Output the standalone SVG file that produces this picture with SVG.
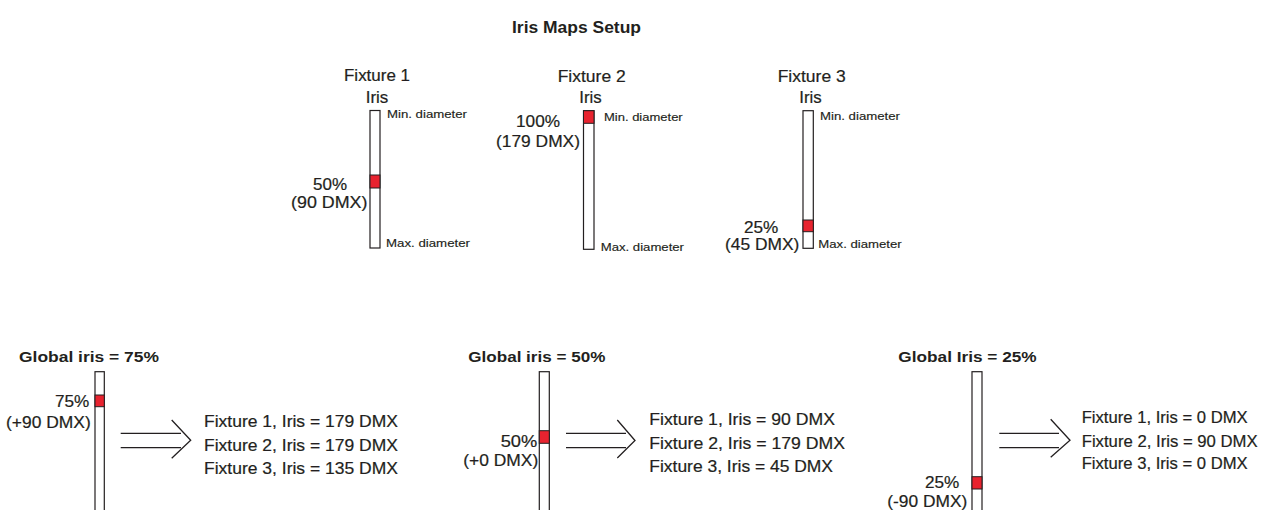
<svg xmlns="http://www.w3.org/2000/svg" width="1279" height="510" viewBox="0 0 1279 510">
<style>
text{font-family:"Liberation Sans",Arial,sans-serif;fill:#231f20}
.t{font-size:15.8px;stroke:#231f20;stroke-width:0.2}
.s{font-size:11.5px;stroke:#231f20;stroke-width:0.15}
.b{font-size:15px;font-weight:bold}
.bar{fill:#fff;stroke:#231f20;stroke-width:1.2}
.red{fill:#e8232f;stroke:#231f20;stroke-width:1}
.ar{fill:none;stroke:#231f20;stroke-width:1.3}
</style>
<rect width="1279" height="510" fill="#fff"/>
<text id="title" class="b" style="font-size:16px" x="512" y="33" textLength="129" lengthAdjust="spacingAndGlyphs">Iris Maps Setup</text>
<g id="fixture1">
<text class="t" x="344" y="81" textLength="66" lengthAdjust="spacingAndGlyphs">Fixture 1</text>
<text class="t" x="365.7" y="103.3" textLength="22.6" lengthAdjust="spacingAndGlyphs">Iris</text>
<rect class="bar" x="370" y="110.5" width="10" height="137.5"/>
<rect class="red" x="370" y="175" width="10" height="13"/>
<text class="s" x="387" y="117.7" textLength="80" lengthAdjust="spacingAndGlyphs">Min. diameter</text>
<text class="s" x="386" y="247.3" textLength="84" lengthAdjust="spacingAndGlyphs">Max. diameter</text>
<text class="t" x="313" y="190" textLength="34" lengthAdjust="spacingAndGlyphs">50%</text>
<text class="t" x="291" y="208.3" textLength="76.5" lengthAdjust="spacingAndGlyphs">(90 DMX)</text>
</g>
<g id="fixture2">
<text class="t" x="557.7" y="81.5" textLength="68" lengthAdjust="spacingAndGlyphs">Fixture 2</text>
<text class="t" x="579.3" y="103.3" textLength="22.4" lengthAdjust="spacingAndGlyphs">Iris</text>
<rect class="bar" x="583.5" y="110.7" width="10.5" height="138.6"/>
<rect class="red" x="583.5" y="110.7" width="10.5" height="12.6"/>
<text class="s" x="604" y="120.7" textLength="78.7" lengthAdjust="spacingAndGlyphs">Min. diameter</text>
<text class="s" x="600.7" y="250.7" textLength="83.3" lengthAdjust="spacingAndGlyphs">Max. diameter</text>
<text class="t" x="516" y="126.7" textLength="44" lengthAdjust="spacingAndGlyphs">100%</text>
<text class="t" x="496" y="146.7" textLength="84" lengthAdjust="spacingAndGlyphs">(179 DMX)</text>
</g>
<g id="fixture3">
<text class="t" x="777.7" y="81.5" textLength="68" lengthAdjust="spacingAndGlyphs">Fixture 3</text>
<text class="t" x="799.3" y="103.3" textLength="22.4" lengthAdjust="spacingAndGlyphs">Iris</text>
<rect class="bar" x="803" y="110.7" width="10.3" height="137.6"/>
<rect class="red" x="803" y="220" width="10.3" height="11.7"/>
<text class="s" x="820" y="120" textLength="80" lengthAdjust="spacingAndGlyphs">Min. diameter</text>
<text class="s" x="818.3" y="248.3" textLength="83.4" lengthAdjust="spacingAndGlyphs">Max. diameter</text>
<text class="t" x="744" y="233.3" textLength="34.3" lengthAdjust="spacingAndGlyphs">25%</text>
<text class="t" x="725" y="250" textLength="74.3" lengthAdjust="spacingAndGlyphs">(45 DMX)</text>
</g>
<g id="global75">
<text class="b" x="19" y="361.7" textLength="140" lengthAdjust="spacingAndGlyphs">Global iris = 75%</text>
<rect class="bar" x="95" y="371.7" width="9.3" height="145"/>
<rect class="red" x="95" y="395" width="9.3" height="11.7"/>
<text class="t" x="55" y="406.7" textLength="34.3" lengthAdjust="spacingAndGlyphs">75%</text>
<text class="t" x="6" y="428.3" textLength="84.7" lengthAdjust="spacingAndGlyphs">(+90 DMX)</text>
<text class="t" x="204" y="426.7" textLength="194" lengthAdjust="spacingAndGlyphs">Fixture 1, Iris = 179 DMX</text>
<text class="t" x="204" y="450.7" textLength="194" lengthAdjust="spacingAndGlyphs">Fixture 2, Iris = 179 DMX</text>
<text class="t" x="204" y="474" textLength="194" lengthAdjust="spacingAndGlyphs">Fixture 3, Iris = 135 DMX</text>
</g>
<g id="global50">
<text class="b" x="468.3" y="361.7" textLength="137" lengthAdjust="spacingAndGlyphs">Global iris = 50%</text>
<rect class="bar" x="539.3" y="371.7" width="10" height="145"/>
<rect class="red" x="539.3" y="430.7" width="10" height="12.6"/>
<text class="t" x="500.7" y="446.7" textLength="36.6" lengthAdjust="spacingAndGlyphs">50%</text>
<text class="t" x="463.3" y="466" textLength="75" lengthAdjust="spacingAndGlyphs">(+0 DMX)</text>
<text class="t" x="649.3" y="425" textLength="185.7" lengthAdjust="spacingAndGlyphs">Fixture 1, Iris = 90 DMX</text>
<text class="t" x="649.3" y="448.5" textLength="195.7" lengthAdjust="spacingAndGlyphs">Fixture 2, Iris = 179 DMX</text>
<text class="t" x="649.3" y="471.7" textLength="183.7" lengthAdjust="spacingAndGlyphs">Fixture 3, Iris = 45 DMX</text>
</g>
<g id="global25">
<text class="b" x="898.3" y="361.7" textLength="138.4" lengthAdjust="spacingAndGlyphs">Global Iris = 25%</text>
<rect class="bar" x="972" y="371.7" width="10" height="145"/>
<rect class="red" x="972" y="476.7" width="10" height="12.3"/>
<text class="t" x="925" y="488.3" textLength="34.3" lengthAdjust="spacingAndGlyphs">25%</text>
<text class="t" x="887.3" y="507.3" textLength="80" lengthAdjust="spacingAndGlyphs">(-90 DMX)</text>
<text class="t" x="1081.7" y="423.3" textLength="166" lengthAdjust="spacingAndGlyphs">Fixture 1, Iris = 0 DMX</text>
<text class="t" x="1081.7" y="446.7" textLength="176" lengthAdjust="spacingAndGlyphs">Fixture 2, Iris = 90 DMX</text>
<text class="t" x="1081.7" y="469" textLength="166" lengthAdjust="spacingAndGlyphs">Fixture 3, Iris = 0 DMX</text>
</g>
<g id="connectors">
<path class="ar" d="M120.7 433.3H181M120.7 447.7H181M171.7 420L190.7 440.3L171.7 458.3"/>
<path class="ar" d="M566 433.3H626M566 447.7H626M617.3 420L635 440.5L617.3 458"/>
<path class="ar" d="M999.3 433.3H1059M999.3 447.7H1059M1050.7 419.3L1070 440.3L1050.7 457.3"/>
</g>
</svg>
